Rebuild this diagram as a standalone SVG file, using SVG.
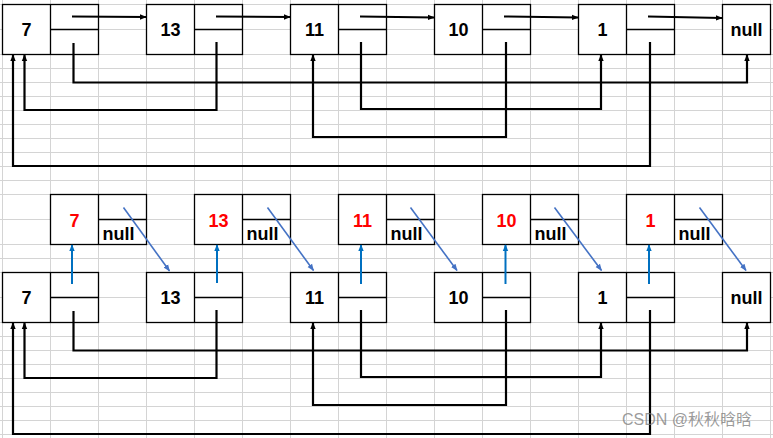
<svg xmlns="http://www.w3.org/2000/svg" width="773" height="438" viewBox="0 0 773 438">
<style>
.grid{stroke:#d4d4d4;stroke-width:1;fill:none}
.box{fill:#fff;stroke:#000;stroke-width:1.3}
.div{stroke:#000;stroke-width:1.3;fill:none}
.t{font-family:"Liberation Sans",Arial,sans-serif;font-size:18px;font-weight:bold;fill:#000}
.c{text-anchor:middle}
.red{fill:#ff0000}
.nx{stroke:#000;stroke-width:2;fill:none;marker-end:url(#ab)}
.rd{stroke:#000;stroke-width:2.2;fill:none;marker-end:url(#ab)}
.bv{stroke:#0070c0;stroke-width:2;fill:none;marker-end:url(#av)}
.bd{stroke:#4472c4;stroke-width:1.6;fill:none;marker-end:url(#ad)}
.wm{font-family:"Liberation Sans","Noto Sans CJK SC",sans-serif;font-size:16px;fill:#7a7a7a;fill-opacity:0.75}
</style>
<defs>
<marker id="ab" viewBox="0 0 10 10" refX="9" refY="5" markerWidth="7" markerHeight="7" orient="auto" markerUnits="userSpaceOnUse"><path d="M0,1 L10,5 L0,9z" fill="#000"/></marker>
<marker id="av" viewBox="0 0 10 10" refX="9" refY="5" markerWidth="7" markerHeight="7" orient="auto" markerUnits="userSpaceOnUse"><path d="M0,1 L10,5 L0,9z" fill="#0070c0"/></marker>
<marker id="ad" viewBox="0 0 10 10" refX="9" refY="5" markerWidth="7" markerHeight="7" orient="auto" markerUnits="userSpaceOnUse"><path d="M0,1 L10,5 L0,9z" fill="#4472c4"/></marker>
</defs>
<rect width="773" height="438" fill="#fff"/>
<g id="grid">
<path class="grid" d="M2.5 0V438M50.5 0V438M98.5 0V438M146.5 0V438M194.5 0V438M242.5 0V438M290.5 0V438M338.5 0V438M386.5 0V438M434.5 0V438M482.5 0V438M530.5 0V438M578.5 0V438M626.5 0V438M674.5 0V438M722.5 0V438M770.5 0V438"/>
<path class="grid" d="M0 4.5H773M0 29.5H773M0 54.5H773M0 68.5H773M0 82.5H773M0 96.5H773M0 110.5H773M0 124.5H773M0 138.5H773M0 152.5H773M0 166.5H773M0 180.5H773M0 194.5H773M0 219.5H773M0 244.5H773M0 258.5H773M0 272.5H773M0 297.5H773M0 322.5H773M0 336.5H773M0 350.5H773M0 364.5H773M0 378.5H773M0 392.5H773M0 406.5H773M0 420.5H773M0 434.5H773"/>
</g>

<!-- top row -->
<g id="a7"><rect class="box" x="2.5" y="4.5" width="96" height="50"/><path class="div" d="M50.5 4.5V54.5M50.5 29.5H98.5"/><text class="t c" x="26.5" y="36">7</text></g>
<g id="a13"><rect class="box" x="146.5" y="4.5" width="96" height="50"/><path class="div" d="M194.5 4.5V54.5M194.5 29.5H242.5"/><text class="t c" x="170.5" y="36">13</text></g>
<g id="a11"><rect class="box" x="290.5" y="4.5" width="96" height="50"/><path class="div" d="M338.5 4.5V54.5M338.5 29.5H386.5"/><text class="t c" x="314.5" y="36">11</text></g>
<g id="a10"><rect class="box" x="434.5" y="4.5" width="96" height="50"/><path class="div" d="M482.5 4.5V54.5M482.5 29.5H530.5"/><text class="t c" x="458.5" y="36">10</text></g>
<g id="a1"><rect class="box" x="578.5" y="4.5" width="96" height="50"/><path class="div" d="M626.5 4.5V54.5M626.5 29.5H674.5"/><text class="t c" x="602.5" y="36">1</text></g>
<g id="anull"><rect class="box" x="722.5" y="4.5" width="48" height="50"/><text class="t c" x="746.5" y="36">null</text></g>

<!-- copy row -->
<g id="c7"><rect class="box" x="50.5" y="194.5" width="96" height="50"/><path class="div" d="M98.5 194.5V244.5M98.5 219.5H146.5"/><text class="t c red" x="74.5" y="226.5">7</text><text class="t" x="102.5" y="240">null</text></g>
<g id="c13"><rect class="box" x="194.5" y="194.5" width="96" height="50"/><path class="div" d="M242.5 194.5V244.5M242.5 219.5H290.5"/><text class="t c red" x="218.5" y="226.5">13</text><text class="t" x="246.5" y="240">null</text></g>
<g id="c11"><rect class="box" x="338.5" y="194.5" width="96" height="50"/><path class="div" d="M386.5 194.5V244.5M386.5 219.5H434.5"/><text class="t c red" x="362.5" y="226.5">11</text><text class="t" x="390.5" y="240">null</text></g>
<g id="c10"><rect class="box" x="482.5" y="194.5" width="96" height="50"/><path class="div" d="M530.5 194.5V244.5M530.5 219.5H578.5"/><text class="t c red" x="506.5" y="226.5">10</text><text class="t" x="534.5" y="240">null</text></g>
<g id="c1"><rect class="box" x="626.5" y="194.5" width="96" height="50"/><path class="div" d="M674.5 194.5V244.5M674.5 219.5H722.5"/><text class="t c red" x="650.5" y="226.5">1</text><text class="t" x="678.5" y="240">null</text></g>

<!-- bottom row -->
<g id="b7"><rect class="box" x="2.5" y="272.5" width="96" height="50"/><path class="div" d="M50.5 272.5V322.5M50.5 297.5H98.5"/><text class="t c" x="26.5" y="304">7</text></g>
<g id="b13"><rect class="box" x="146.5" y="272.5" width="96" height="50"/><path class="div" d="M194.5 272.5V322.5M194.5 297.5H242.5"/><text class="t c" x="170.5" y="304">13</text></g>
<g id="b11"><rect class="box" x="290.5" y="272.5" width="96" height="50"/><path class="div" d="M338.5 272.5V322.5M338.5 297.5H386.5"/><text class="t c" x="314.5" y="304">11</text></g>
<g id="b10"><rect class="box" x="434.5" y="272.5" width="96" height="50"/><path class="div" d="M482.5 272.5V322.5M482.5 297.5H530.5"/><text class="t c" x="458.5" y="304">10</text></g>
<g id="b1"><rect class="box" x="578.5" y="272.5" width="96" height="50"/><path class="div" d="M626.5 272.5V322.5M626.5 297.5H674.5"/><text class="t c" x="602.5" y="304">1</text></g>
<g id="bnull"><rect class="box" x="722.5" y="272.5" width="48" height="50"/><text class="t c" x="746.5" y="304">null</text></g>

<g id="connectors">
<path class="nx" d="M72 16.5L146 17"/>
<path class="nx" d="M216 16.5L290 17"/>
<path class="nx" d="M360 16.5L434 17.5"/>
<path class="nx" d="M504 16.5L578 17.5"/>
<path class="nx" d="M648 16.5L722 18"/>
<path class="rd" d="M73.5 43V82.5H747V55"/>
<path class="rd" d="M216.5 42V110H24.5V55"/>
<path class="rd" d="M361 42V109H601V55"/>
<path class="rd" d="M506 42V137H313V55"/>
<path class="rd" d="M650 42V166H13V55"/>
<path class="rd" d="M73.5 311V350.5H747V323"/>
<path class="rd" d="M216.5 310V378H24.5V323"/>
<path class="rd" d="M361 310V377H601V323"/>
<path class="rd" d="M506 310V405H313V323"/>
<path class="rd" d="M650 310V434H13V323"/>
<path class="bv" d="M72 284V245"/>
<path class="bv" d="M217 283V245"/>
<path class="bv" d="M361 284V245"/>
<path class="bv" d="M505.5 284V245"/>
<path class="bv" d="M649 284V245"/>
<path class="bd" d="M123.5 207.5L169.5 271"/>
<path class="bd" d="M267.5 207.5L313.5 270.5"/>
<path class="bd" d="M410.5 207.5L457 270.5"/>
<path class="bd" d="M554.5 207.5L601.5 270.5"/>
<path class="bd" d="M699.5 207.5L746 270.5"/>
</g>
<text class="wm" x="622" y="425">CSDN @秋秋晗晗</text>
</svg>
